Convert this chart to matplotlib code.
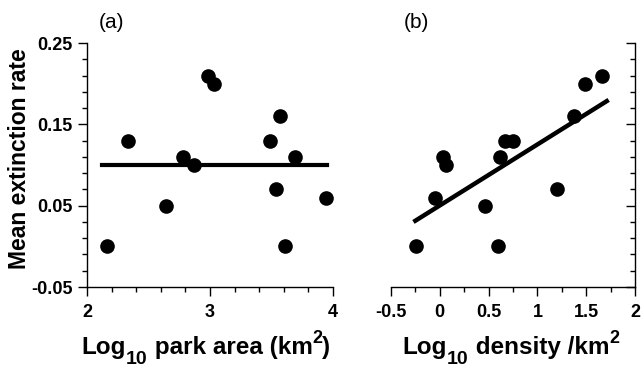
import matplotlib
matplotlib.use("Agg")
import matplotlib.pyplot as plt
import numpy as np
from matplotlib.ticker import MultipleLocator, FixedLocator
from matplotlib.transforms import IdentityTransform

plt.rcParams['font.family'] = ['Liberation Sans', 'DejaVu Sans']

# Panel (a): log10 park area vs mean extinction rate
area_x = [2.16, 2.33, 2.64, 2.78, 2.87, 2.98, 3.03, 3.49, 3.57, 3.54, 3.69, 3.61, 3.94]
area_y = [0.00, 0.13, 0.05, 0.11, 0.10, 0.21, 0.20, 0.13, 0.16, 0.07, 0.11, 0.00, 0.06]
area_fit_x = [2.12, 3.95]
area_fit_y = [0.10, 0.10]

# Panel (b): log10 density vs mean extinction rate
dens_x = [-0.24, -0.05, 0.03, 0.06, 0.46, 0.62, 0.67, 0.75, 0.60, 1.20, 1.38, 1.49, 1.66]
dens_y = [0.00, 0.06, 0.11, 0.10, 0.05, 0.11, 0.13, 0.13, 0.00, 0.07, 0.16, 0.20, 0.21]
dens_fit_x = [-0.27, 1.73]
dens_fit_y = [0.03, 0.18]

y_ticks = [-0.05, 0.05, 0.15, 0.25]
y_labels = ['-0.05', '0.05', '0.15', '0.25']
xa_ticks = [2, 3, 4]
xb_ticks = [-0.5, 0, 0.5, 1, 1.5, 2]
xb_labels = ['-0.5', '0', '0.5', '1', '1.5', '2']

W, H = 644, 368
fig = plt.figure(figsize=(W/100, H/100), dpi=100)
axa = fig.add_axes([87/W, 1-287/H, (333-87)/W, (287-43)/H])
axb = fig.add_axes([391/W, 1-287/H, (635-391)/W, (287-43)/H])

tickfont = dict(fontsize=13, fontweight='bold')
minor_y = np.round(np.arange(-0.05, 0.2501, 0.02), 3)

for ax in (axa, axb):
    ax.set_ylim(-0.05, 0.25)
    ax.spines['top'].set_visible(False)
    for s in ax.spines.values():
        s.set_linewidth(1.0)
    ax.yaxis.set_minor_locator(FixedLocator(minor_y))
    ax.tick_params(which='major', length=6.5, width=1.0, pad=4)
    ax.tick_params(which='minor', length=3.5, width=1.0)
    ax.tick_params(axis='x', which='major', pad=6)

# panel a
axa.plot(area_x, area_y, 'o', color='black', markersize=9.5, clip_on=False, zorder=3)
axa.plot(area_fit_x, area_fit_y, '-', color='black', linewidth=3)
axa.set_xlim(2, 4)
axa.set_xticks(xa_ticks)
axa.set_xticklabels([str(t) for t in xa_ticks], **tickfont)
axa.xaxis.set_minor_locator(MultipleLocator(0.2))
axa.set_yticks(y_ticks)
axa.set_yticklabels(y_labels, **tickfont)
axa.spines['right'].set_visible(False)
axa.text(112, H - 23, '(a)', transform=IdentityTransform(), fontsize=15,
         ha='center', va='center')

# panel b
axb.plot(dens_x, dens_y, 'o', color='black', markersize=9.5, clip_on=False, zorder=3)
axb.plot(dens_fit_x, dens_fit_y, '-', color='black', linewidth=3.2, solid_capstyle='butt')
axb.set_xlim(-0.5, 2)
axb.set_xticks(xb_ticks)
axb.set_xticklabels(xb_labels, **tickfont)
axb.xaxis.set_minor_locator(MultipleLocator(0.25))
axb.spines['left'].set_visible(False)
axb.yaxis.tick_right()
axb.set_yticks(y_ticks)
axb.set_yticklabels([])
axb.tick_params(axis='y', which='both', direction='in')
axb.text(416, H - 23, '(b)', transform=IdentityTransform(), fontsize=15,
         ha='center', va='center')

# y label
fig.text(20/W, 1 - 159/H, 'Mean extinction rate', rotation=90, fontsize=16.5,
         fontweight='bold', ha='center', va='center')

# rich x labels (large, lowered subscript like the reference)
fig.canvas.draw()
renderer = fig.canvas.get_renderer()

def rich_label(x_center, baseline_from_top, pieces):
    texts = []
    widths = []
    for s, size, dy in pieces:
        t = fig.text(0, 0, s, fontsize=size, fontweight='bold',
                     transform=IdentityTransform(), ha='left', va='baseline')
        texts.append((t, dy))
        widths.append(t.get_window_extent(renderer).width)
    total = sum(widths)
    x = x_center - total / 2
    base = H - baseline_from_top
    for (t, dy), w in zip(texts, widths):
        t.set_position((x, base + dy))
        x += w

rich_label(206, 354, [('Log', 17.5, 0), ('10', 14, -10), (' park area (km', 17.5, 0),
                      ('2', 13, 11), (')', 17.5, 0)])
rich_label(511, 354, [('Log', 17.5, 0), ('10', 14, -10), (' density /km', 17.5, 0),
                      ('2', 13, 11)])

fig.savefig('out.png', dpi=100)
